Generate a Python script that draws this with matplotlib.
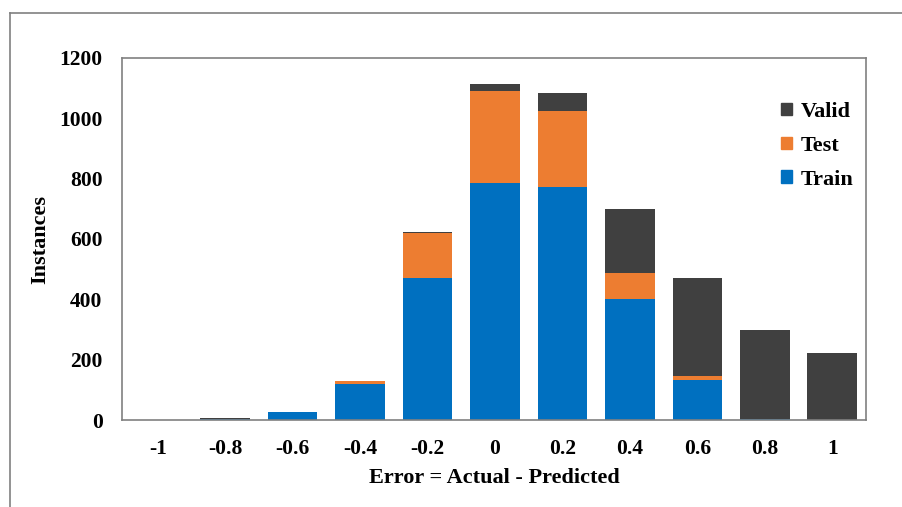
import matplotlib
matplotlib.use("Agg")
import matplotlib.pyplot as plt
from matplotlib.lines import Line2D
from matplotlib.patches import Patch

categories = ["-1", "-0.8", "-0.6", "-0.4", "-0.2", "0", "0.2", "0.4", "0.6", "0.8", "1"]
train = [1, 3, 25, 119, 471, 786, 772, 401, 133, 4, 0]
test = [0, 0, 0, 10, 148, 305, 252, 86, 14, 0, 0]
valid = [0, 4, 2, 0, 3, 22, 60, 213, 324, 294, 222]
yticks = [0, 200, 400, 600, 800, 1000, 1200]

c_train = "#0070C0"
c_test = "#ED7D31"
c_valid = "#404040"

plt.rcParams["font.family"] = ["Liberation Serif", "DejaVu Serif"]
plt.rcParams["font.weight"] = "bold"

fig = plt.figure(figsize=(9.03, 5.07), dpi=100)
ax = fig.add_axes([122/903, 1-420/507, (866-122)/903, (420-58)/507])

x = list(range(len(categories)))
w = 0.735
bottom2 = [a + b for a, b in zip(train, test)]
ax.bar(x, train, width=w, color=c_train, label="Train")
ax.bar(x, test, width=w, bottom=train, color=c_test, label="Test")
ax.bar(x, valid, width=w, bottom=bottom2, color=c_valid, label="Valid")

ax.set_xlim(-0.53, 10.5)
ax.set_ylim(0, 1200)
ax.set_yticks(yticks)
ax.set_yticklabels([str(v) for v in yticks], fontsize=15.5, fontweight="bold")
ax.set_xticks(x)
ax.set_xticklabels(categories, fontsize=15.5, fontweight="bold")
ax.tick_params(axis="both", length=0)
ax.tick_params(axis="y", pad=14)
ax.tick_params(axis="x", pad=14)
for s in ax.spines.values():
    s.set_color("#808080")
    s.set_linewidth(1.2)

fig.text(40/903, 1-239/507, "Instances", rotation=90, ha="center", va="center",
         fontsize=16, fontweight="bold")
fig.text(494/903, 1-478/507, "Error = Actual - Predicted", ha="center", va="center",
         fontsize=16, fontweight="bold")

handles = [Patch(color=c_valid), Patch(color=c_test), Patch(color=c_train)]
leg = fig.legend(handles, ["Valid", "Test", "Train"], loc="upper left",
                 bbox_to_anchor=(781/903, 1-102/507), frameon=False,
                 prop={"size": 16, "weight": "bold"}, handlelength=0.5,
                 handleheight=0.5, handletextpad=0.4, labelspacing=0.62,
                 borderaxespad=0, borderpad=0)

# outer border
fig.add_artist(Line2D([10/903, 1.0], [1-13/507, 1-13/507], transform=fig.transFigure,
                      color="#808080", lw=1.2))
fig.add_artist(Line2D([10/903, 10/903], [0, 1-13/507], transform=fig.transFigure,
                      color="#808080", lw=1.2))

fig.savefig("out.png", dpi=100)
